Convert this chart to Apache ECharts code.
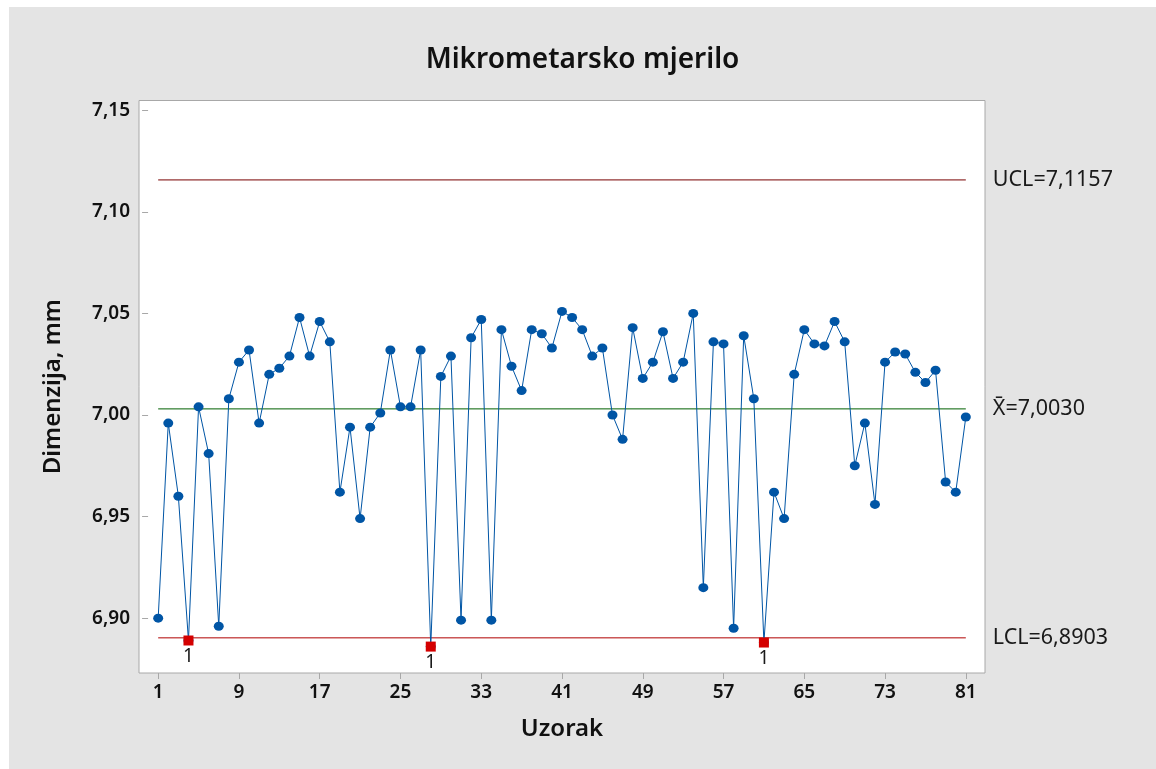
<!DOCTYPE html>
<html>
<head>
<meta charset="utf-8">
<title>Mikrometarsko mjerilo</title>
<script src="https://cdn.jsdelivr.net/npm/echarts@6/dist/echarts.min.js"></script>
<style>
  html, body { margin: 0; padding: 0; background: #ffffff; width: 1156px; height: 769px; overflow: hidden; }
  #chart { position: absolute; left: 9px; top: 7px; width: 1147px; height: 762px; }
</style>
</head>
<body>
<div id="chart"></div>
<script>
// Individual measurements per sample (mm)
const sampleNo = Array.from({ length: 81 }, (_, i) => i + 1);
const measurements = [
  6.900, 6.996, 6.960, 6.889, 7.004, 6.981, 6.896, 7.008, 7.026, 7.032,
  6.996, 7.020, 7.023, 7.029, 7.048, 7.029, 7.046, 7.036, 6.962, 6.994,
  6.949, 6.994, 7.001, 7.032, 7.004, 7.004, 7.032, 6.886, 7.019, 7.029,
  6.899, 7.038, 7.047, 6.899, 7.042, 7.024, 7.012, 7.042, 7.040, 7.033,
  7.051, 7.048, 7.042, 7.029, 7.033, 7.000, 6.988, 7.043, 7.018, 7.026,
  7.041, 7.018, 7.026, 7.050, 6.915, 7.036, 7.035, 6.895, 7.039, 7.008,
  6.888, 6.962, 6.949, 7.020, 7.042, 7.035, 7.034, 7.046, 7.036, 6.975,
  6.996, 6.956, 7.026, 7.031, 7.030, 7.021, 7.016, 7.022, 6.967, 6.962,
  6.999
];

// Control limits
const UCL = 7.1157;
const CENTER = 7.0030;
const LCL = 6.8903;

// Tick positions
const xTicks = [1, 9, 17, 25, 33, 41, 49, 57, 65, 73, 81];
const yTicks = [6.90, 6.95, 7.00, 7.05, 7.10, 7.15];

const fmt = (v, d) => v.toFixed(d).replace('.', ',');
const FONT = '"Noto Sans", "Open Sans", sans-serif';

const points = sampleNo.map((n, i) => [n, measurements[i]]);
const outOfControl = points.filter(p => p[1] < LCL || p[1] > UCL);
const first = sampleNo[0];
const last = sampleNo[sampleNo.length - 1];

function limitSeries(value, color, text) {
  return {
    type: 'line',
    data: [[first, value], [last, value]],
    symbol: 'none',
    silent: true,
    z: 1,
    lineStyle: { color: color, width: 1 },
    endLabel: {
      show: true,
      formatter: text,
      distance: 27,
      color: '#1a1a1a',
      fontFamily: FONT,
      fontSize: 21.5
    }
  };
}

const chart = echarts.init(document.getElementById('chart'));
chart.setOption({
  animation: false,
  backgroundColor: '#e4e4e4',
  title: {
    text: 'Mikrometarsko mjerilo',
    left: 'center',
    top: 34,
    textStyle: { fontFamily: FONT, fontSize: 28, fontWeight: 600, color: '#111' }
  },
  grid: {
    left: 130, top: 93.5, right: 171, bottom: 96,
    show: true, backgroundColor: '#ffffff', borderColor: '#a8a8a8', borderWidth: 1
  },
  xAxis: {
    type: 'value',
    min: -0.9, max: 82.9,
    name: 'Uzorak',
    nameLocation: 'middle',
    nameGap: 44,
    nameTextStyle: { fontFamily: FONT, fontSize: 24, fontWeight: 600, color: '#111' },
    axisLine: { show: false },
    splitLine: { show: false },
    axisTick: { show: true, customValues: xTicks, length: 6, lineStyle: { color: '#a8a8a8' } },
    axisLabel: {
      customValues: xTicks, margin: 10,
      fontFamily: FONT, fontSize: 19, fontWeight: 600, color: '#111'
    }
  },
  yAxis: {
    type: 'value',
    min: 6.873, max: 7.1548,
    name: 'Dimenzija, mm',
    nameLocation: 'middle',
    nameGap: 74,
    nameTextStyle: { fontFamily: FONT, fontSize: 24, fontWeight: 600, color: '#111' },
    axisLine: { show: false },
    splitLine: { show: false },
    axisTick: { show: true, customValues: yTicks, length: 6, lineStyle: { color: '#a8a8a8' } },
    axisLabel: {
      customValues: yTicks, margin: 9,
      formatter: v => fmt(v, 2),
      fontFamily: FONT, fontSize: 19, fontWeight: 600, color: '#111'
    }
  },
  series: [
    limitSeries(UCL, '#780000', 'UCL=' + fmt(UCL, 4)),
    limitSeries(CENTER, '#006000', 'X\u0304=' + fmt(CENTER, 4)),
    limitSeries(LCL, '#b00000', 'LCL=' + fmt(LCL, 4)),
    {
      type: 'line',
      data: points,
      z: 3,
      symbol: 'circle',
      symbolSize: [10, 9],
      lineStyle: { color: '#0055a5', width: 1 },
      itemStyle: { color: '#0055a5' }
    },
    {
      type: 'scatter',
      data: outOfControl,
      z: 4,
      symbol: 'rect',
      symbolSize: 10,
      itemStyle: { color: '#d40000', opacity: 1 },
      label: {
        show: true,
        position: 'bottom',
        distance: 2,
        formatter: '1',
        fontFamily: FONT,
        fontSize: 19,
        color: '#1a1a1a'
      }
    }
  ]
});
</script>
</body>
</html>
